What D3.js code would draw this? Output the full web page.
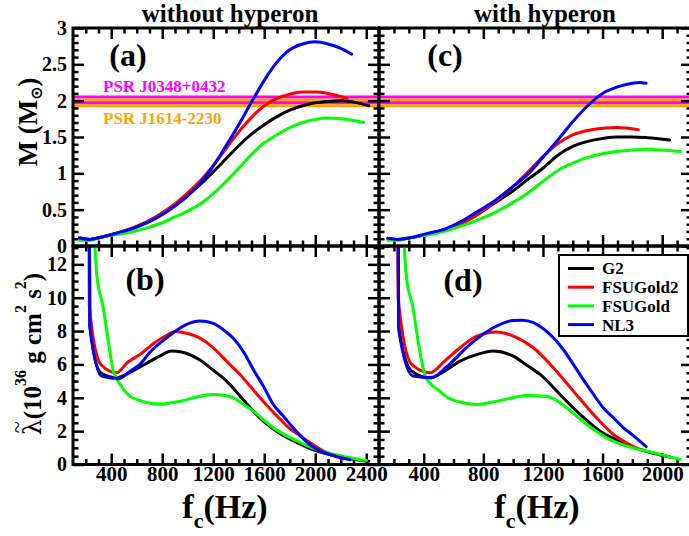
<!DOCTYPE html>
<html><head><meta charset="utf-8">
<script src="https://cdn.jsdelivr.net/npm/d3@7"></script>
<style>
body{margin:0;background:#fff}
svg text{font-family:"Liberation Serif","Times New Roman",serif;font-weight:bold}
</style></head><body>
<svg id="chart" width="689" height="536"></svg>
<script>
// ---------------- data ----------------
const seriesNames = ["G2", "FSUGold2", "FSUGold", "NL3"];
const seriesColors = ["#000000", "#ff0000", "#00ff00", "#0000ff"];

// (a) mass vs f_c, without hyperon  [f_c (Hz), M (Msun)]
const massNoHyp_G2 = [[150,.11],[230,.09],[320,.12],[450,.18],[600,.27],[750,.40],[900,.57],[1000,.70],[1100,.85],[1200,1.02],[1300,1.20],[1400,1.38],[1500,1.54],[1600,1.67],[1700,1.78],[1800,1.87],[1900,1.93],[2000,1.97],[2100,1.99],[2200,2.0],[2300,1.98],[2420,1.93]];
const massNoHyp_FSUGold2 = [[150,.11],[230,.09],[320,.12],[450,.18],[600,.27],[750,.40],[900,.58],[1000,.73],[1100,.90],[1200,1.11],[1300,1.34],[1400,1.57],[1500,1.77],[1600,1.93],[1700,2.03],[1800,2.09],[1900,2.12],[2000,2.12],[2100,2.10],[2250,2.03]];
const massNoHyp_FSUGold = [[150,.08],[230,.08],[320,.12],[450,.16],[573,.20],[700,.26],[800,.32],[900,.40],[1000,.48],[1100,.58],[1200,.72],[1300,.89],[1400,1.07],[1500,1.26],[1600,1.42],[1700,1.53],[1800,1.63],[1900,1.70],[2000,1.74],[2100,1.76],[2200,1.75],[2380,1.70]];
const massNoHyp_NL3 = [[150,.11],[230,.09],[320,.12],[450,.18],[600,.26],[750,.38],[900,.55],[1000,.69],[1100,.87],[1200,1.10],[1300,1.38],[1400,1.67],[1500,1.98],[1600,2.28],[1700,2.53],[1800,2.70],[1900,2.78],[2000,2.81],[2100,2.78],[2200,2.72],[2285,2.64]];

// (c) mass vs f_c, with hyperon
const massHyp_G2 = [[160,.105],[220,.09],[300,.11],[420,.16],[550,.23],[700,.36],[867,.58],[1000,.76],[1100,.92],[1200,1.07],[1300,1.25],[1400,1.37],[1500,1.44],[1600,1.48],[1700,1.50],[1800,1.50],[1900,1.49],[2050,1.46]];
const massHyp_FSUGold2 = [[160,.105],[220,.09],[300,.11],[420,.16],[550,.23],[700,.36],[867,.59],[1000,.82],[1100,1.02],[1200,1.23],[1300,1.41],[1400,1.53],[1500,1.59],[1600,1.62],[1700,1.63],[1840,1.60]];
const massHyp_FSUGold = [[160,.08],[220,.08],[300,.11],[420,.15],[550,.21],[644,.27],[750,.35],[867,.45],[1000,.60],[1100,.73],[1200,.89],[1300,1.04],[1400,1.14],[1500,1.22],[1600,1.27],[1700,1.30],[1800,1.32],[1900,1.33],[2000,1.32],[2120,1.30]];
const massHyp_NL3 = [[160,.105],[220,.09],[300,.11],[420,.17],[550,.24],[644,.33],[750,.46],[867,.61],[1000,.82],[1100,.99],[1200,1.22],[1300,1.46],[1400,1.71],[1500,1.93],[1600,2.10],[1700,2.19],[1800,2.24],[1850,2.25],[1892,2.24]];

// (b) tidal deformability vs f_c, without hyperon [f_c, lambda (1e36 g cm^2 s^2)]
const lamNoHyp_G2 = [[215,40],[232,8.3],[318,5.5],[443,5.2],[540,5.5],[678,6.07],[780,6.5],[874,6.8],[950,6.75],[1096,6.26],[1200,5.65],[1305,5.0],[1400,4.2],[1514,3.2],[1600,2.55],[1671,2.13],[1780,1.6],[1880,1.23],[1980,0.9],[2090,0.64],[2200,0.45],[2300,0.32],[2420,0.2]];
const lamNoHyp_FSUGold2 = [[212,40],[228,9.5],[318,6.0],[443,5.5],[525,6.1],[625,6.6],[740,7.3],[835,7.75],[900,7.97],[1000,7.85],[1096,7.58],[1200,7.0],[1253,6.6],[1330,6.0],[1410,5.4],[1500,4.6],[1567,4.0],[1650,3.3],[1724,2.72],[1800,2.15],[1880,1.73],[1960,1.3],[2037,0.93],[2120,0.6],[2220,0.34]];
const lamNoHyp_FSUGold = [[238,20],[286,11.4],[338,9.4],[377,7.4],[416,5.6],[440,5.2],[469,4.8],[547,4.1],[620,3.85],[678,3.72],[782,3.62],[939,3.79],[1096,4.09],[1200,4.19],[1280,4.15],[1357,3.99],[1440,3.6],[1514,3.2],[1600,2.65],[1671,2.2],[1780,1.7],[1880,1.33],[1980,0.98],[2090,0.73],[2200,0.52],[2272,0.40],[2402,0.24]];
const lamNoHyp_NL3 = [[215,40],[232,8.3],[325,5.3],[455,5.15],[550,5.6],[625,6.0],[700,6.7],[835,7.6],[992,8.4],[1096,8.6],[1200,8.46],[1300,7.95],[1357,7.57],[1450,6.6],[1514,5.7],[1600,4.6],[1671,3.6],[1750,2.9],[1827,2.2],[1900,1.6],[1984,1.05],[2060,0.75],[2141,0.54],[2272,0.28]];

// (d) tidal deformability vs f_c, with hyperon
const lamHyp_G2 = [[215,40],[232,8.3],[319,5.6],[443,5.2],[540,5.6],[644,6.2],[760,6.6],[867,6.8],[1001,6.5],[1100,5.9],[1181,5.4],[1315,4.2],[1449,3.0],[1583,2.0],[1700,1.45],[1800,1.05],[1900,0.78],[2053,0.45]];
const lamHyp_FSUGold2 = [[212,40],[228,10.0],[319,6.0],[443,5.5],[540,6.2],[644,7.0],[756,7.7],[890,7.95],[1001,7.7],[1136,7.0],[1270,5.8],[1404,4.4],[1539,3.0],[1673,1.8],[1760,1.3],[1840,0.93]];
const lamHyp_FSUGold = [[238,20],[282,11.4],[328,9.4],[362,7.4],[407,5.4],[440,4.9],[509,4.4],[563,4.0],[621,3.8],[756,3.6],[912,3.83],[1091,4.14],[1225,4.08],[1300,3.8],[1360,3.39],[1494,2.4],[1628,1.6],[1762,1.1],[1941,0.71],[2120,0.3]];
const lamHyp_NL3 = [[215,40],[232,8.1],[328,5.3],[452,5.2],[554,5.86],[711,7.2],[867,8.2],[1001,8.63],[1060,8.65],[1136,8.5],[1200,8.15],[1270,7.6],[1340,6.85],[1404,6.0],[1470,5.1],[1539,4.2],[1600,3.45],[1673,2.8],[1740,2.2],[1807,1.73],[1850,1.4],[1892,1.07]];

// pulsar constraints: [M - err, M + err]
const psrNames = ["PSR J0348+0432", "PSR J1614-2230"];
const psrBands = [[1.97, 2.05], [1.93, 2.01]];
const psrColors = ["#ff00ff", "#ffa500"];

// ticks
const xMajorLeft = [400, 800, 1200, 1600, 2000, 2400];
const xMajorRight = [400, 800, 1200, 1600, 2000];
const yMajorMass = [0, 0.5, 1, 1.5, 2, 2.5, 3];
const yMajorLam = [0, 2, 4, 6, 8, 10, 12];
const titles = ["without hyperon", "with hyperon"];
const panelLabels = ["(a)", "(b)", "(c)", "(d)"];

// ---------------- layout ----------------
const L = 73, Mx = 379, R = 692, T = 28, My = 246, B = 464.5;
const xLeft = d3.scaleLinear().domain([100, 2500]).range([L, Mx]);
const xRight = d3.scaleLinear().domain([100, 2200]).range([Mx, R]);
const yMass = d3.scaleLinear().domain([0, 3]).range([My, T]);
const yLam = d3.scaleLinear().domain([0, 13.1]).range([B, My]);

const svg = d3.select("#chart");
svg.append("rect").attr("width", 689).attr("height", 536).attr("fill", "#fff");
const defs = svg.append("defs");

const panels = [
  {key:"a", xs:xLeft, ys:yMass, series:[massNoHyp_G2, massNoHyp_FSUGold2, massNoHyp_FSUGold, massNoHyp_NL3], xMaj:xMajorLeft, yMaj:yMajorMass, yMinStep:0.1, showX:false, showY:true, label:panelLabels[0], lx:128, ly:66, band:true},
  {key:"b", xs:xLeft, ys:yLam, series:[lamNoHyp_G2, lamNoHyp_FSUGold2, lamNoHyp_FSUGold, lamNoHyp_NL3], xMaj:xMajorLeft, yMaj:yMajorLam, yMinStep:0.5, showX:true, showY:true, label:panelLabels[1], lx:145, ly:290},
  {key:"c", xs:xRight, ys:yMass, series:[massHyp_G2, massHyp_FSUGold2, massHyp_FSUGold, massHyp_NL3], xMaj:xMajorRight, yMaj:yMajorMass, yMinStep:0.1, showX:false, showY:false, label:panelLabels[2], lx:445, ly:66, band:true},
  {key:"d", xs:xRight, ys:yLam, series:[lamHyp_G2, lamHyp_FSUGold2, lamHyp_FSUGold, lamHyp_NL3], xMaj:xMajorRight, yMaj:yMajorLam, yMinStep:0.5, showX:true, showY:false, label:panelLabels[3], lx:463, ly:291, legend:true}
];

const majLen = 11, minLen = 5.5;

function styleAxis(g, fs) {
  g.select(".domain").remove();
  g.selectAll(".tick line").attr("stroke", "#000").attr("stroke-width", 2.5);
  g.attr("font-family", null).attr("font-size", null);
  g.selectAll("text").attr("fill", "#000").style("font-size", fs + "px");
}

panels.forEach(p => {
  const [x0, x1] = p.xs.range();
  const [y0, y1] = p.ys.range(); // y0 bottom, y1 top
  const g = svg.append("g");
  const clipId = "clip-" + p.key;
  defs.append("clipPath").attr("id", clipId)
    .append("rect").attr("x", x0).attr("y", y1).attr("width", x1 - x0).attr("height", y0 - y1);

  const xd = p.xs.domain(), yd = p.ys.domain();
  const xMinor = d3.range(xd[0] + 100, xd[1], 100).filter(v => !p.xMaj.includes(v));
  const yMinor = d3.range(yd[0] + p.yMinStep, yd[1] - 1e-9, p.yMinStep).map(v => +v.toFixed(2)).filter(v => !p.yMaj.some(m => Math.abs(m - v) < 1e-6));

  // bands
  if (p.band) {
    const bg = g.append("g").attr("clip-path", `url(#${clipId})`);
    const lines = [[psrBands[0][1], psrColors[0]], [psrBands[1][1], psrColors[1]], [psrBands[0][0], psrColors[0]], [psrBands[1][0], psrColors[1]]];
    bg.selectAll("line.band").data(lines).enter().append("line")
      .attr("x1", x0).attr("x2", x1)
      .attr("y1", d => p.ys(d[0])).attr("y2", d => p.ys(d[0]))
      .attr("stroke", d => d[1]).attr("stroke-width", 3);
  }

  // axes: bottom
  const ab = g.append("g").attr("transform", `translate(0,${y0})`)
    .call(d3.axisBottom(p.xs).tickValues(p.xMaj).tickSize(-majLen).tickSizeOuter(0).tickPadding(2)
      .tickFormat(p.showX ? d3.format("d") : () => ""));
  styleAxis(ab, 21);
  const abm = g.append("g").attr("transform", `translate(0,${y0})`)
    .call(d3.axisBottom(p.xs).tickValues(xMinor).tickSize(-minLen).tickSizeOuter(0).tickFormat(() => ""));
  styleAxis(abm, 10);
  // top
  const at = g.append("g").attr("transform", `translate(0,${y1})`)
    .call(d3.axisTop(p.xs).tickValues(p.xMaj).tickSize(-majLen).tickSizeOuter(0).tickFormat(() => ""));
  styleAxis(at, 10);
  const atm = g.append("g").attr("transform", `translate(0,${y1})`)
    .call(d3.axisTop(p.xs).tickValues(xMinor).tickSize(-minLen).tickSizeOuter(0).tickFormat(() => ""));
  styleAxis(atm, 10);
  // left
  const al = g.append("g").attr("transform", `translate(${x0},0)`)
    .call(d3.axisLeft(p.ys).tickValues(p.yMaj).tickSize(-majLen).tickSizeOuter(0).tickPadding(6)
      .tickFormat(p.showY ? d3.format("") : () => ""));
  styleAxis(al, 20);
  const alm = g.append("g").attr("transform", `translate(${x0},0)`)
    .call(d3.axisLeft(p.ys).tickValues(yMinor).tickSize(-minLen).tickSizeOuter(0).tickFormat(() => ""));
  styleAxis(alm, 10);
  // right
  const ar = g.append("g").attr("transform", `translate(${x1},0)`)
    .call(d3.axisRight(p.ys).tickValues(p.yMaj).tickSize(-majLen).tickSizeOuter(0).tickFormat(() => ""));
  styleAxis(ar, 10);
  const arm = g.append("g").attr("transform", `translate(${x1},0)`)
    .call(d3.axisRight(p.ys).tickValues(yMinor).tickSize(-minLen).tickSizeOuter(0).tickFormat(() => ""));
  styleAxis(arm, 10);

  // curves
  const line = d3.line().x(d => p.xs(d[0])).y(d => p.ys(d[1])).curve(d3.curveMonotoneX);
  g.append("g").attr("clip-path", `url(#${clipId})`)
    .selectAll("path").data(p.series).enter().append("path")
    .attr("d", line).attr("fill", "none")
    .attr("stroke", (d, i) => seriesColors[i]).attr("stroke-width", 3)
    .attr("stroke-linejoin", "round").attr("stroke-linecap", "round");

  // frame
  g.append("rect").attr("x", x0).attr("y", y1).attr("width", x1 - x0).attr("height", y0 - y1)
    .attr("fill", "none").attr("stroke", "#000").attr("stroke-width", 3);

  // panel label
  g.append("text").attr("x", p.lx).attr("y", p.ly).attr("text-anchor", "middle")
    .style("font-size", "32px").text(p.label);

  if (p.legend) {
    const lg = g.append("g");
    lg.append("rect").attr("x", 559).attr("y", 255).attr("width", 129).attr("height", 81)
      .attr("fill", "#fff").attr("stroke", "#000").attr("stroke-width", 2);
    const rows = lg.selectAll("g.row").data(seriesNames).enter().append("g")
      .attr("transform", (d, i) => `translate(0,${268.5 + i * 18.7})`);
    rows.append("line").attr("x1", 568).attr("x2", 594).attr("y1", 0).attr("y2", 0)
      .attr("stroke", (d, i) => seriesColors[i]).attr("stroke-width", 3);
    rows.append("text").attr("x", 602).attr("y", 0).attr("dy", "0.35em")
      .style("font-size", "17px").text(d => d);
  }
});

// pulsar labels in panel (a)
svg.append("text").attr("x", 103).attr("y", 92).style("font-size", "17px")
  .attr("fill", psrColors[0]).text(psrNames[0]);
svg.append("text").attr("x", 103).attr("y", 124).style("font-size", "17px")
  .attr("fill", psrColors[1]).text(psrNames[1]);

// titles
svg.append("text").attr("x", 230).attr("y", 22).attr("text-anchor", "middle")
  .style("font-size", "25px").text(titles[0]);
svg.append("text").attr("x", 545).attr("y", 22).attr("text-anchor", "middle")
  .style("font-size", "25px").text(titles[1]);

// x labels
[225, 537].forEach(cx => {
  const t = svg.append("text").attr("x", cx).attr("y", 518).attr("text-anchor", "middle").style("font-size", "34px");
  t.append("tspan").text("f");
  t.append("tspan").attr("dy", 10).style("font-size", "22px").text("c");
  t.append("tspan").attr("dy", -10).text("(Hz)");
});

// y label top
{
  const t = svg.append("text").attr("transform", "translate(37,122) rotate(-90)")
    .attr("text-anchor", "middle").style("font-size", "27px");
  t.append("tspan").text("M (M");
  t.append("tspan").attr("dy", 5).style("font-size", "16px").style("font-family", "DejaVu Sans").text("\u2299");
  t.append("tspan").attr("dy", -5).text(")");
}
// y label bottom (lambda with tilde)
{
  const gl = svg.append("g").attr("transform", "translate(41,354) rotate(-90)");
  const t = gl.append("text").style("font-size", "25px");
  const lam = t.append("tspan").style("font-family", "'DejaVu Serif', serif").style("font-weight", "normal").text("\u03BB");
  t.append("tspan").text("(10");
  t.append("tspan").attr("dy", -15).style("font-size", "16px").text("36");
  t.append("tspan").attr("dy", 15).text(" g cm");
  t.append("tspan").attr("dy", -15).style("font-size", "16px").text("2");
  t.append("tspan").attr("dy", 15).text(" s");
  t.append("tspan").attr("dy", -15).style("font-size", "16px").text("2");
  t.append("tspan").attr("dy", 15).text(")");
  const total = t.node().getComputedTextLength();
  const lw = lam.node().getComputedTextLength();
  t.attr("x", -total / 2);
  gl.append("text").attr("x", -total / 2 + lw / 2).attr("y", -17).attr("text-anchor", "middle")
    .style("font-size", "22px").style("font-weight", "normal").text("~");
}
</script>
</body></html>
